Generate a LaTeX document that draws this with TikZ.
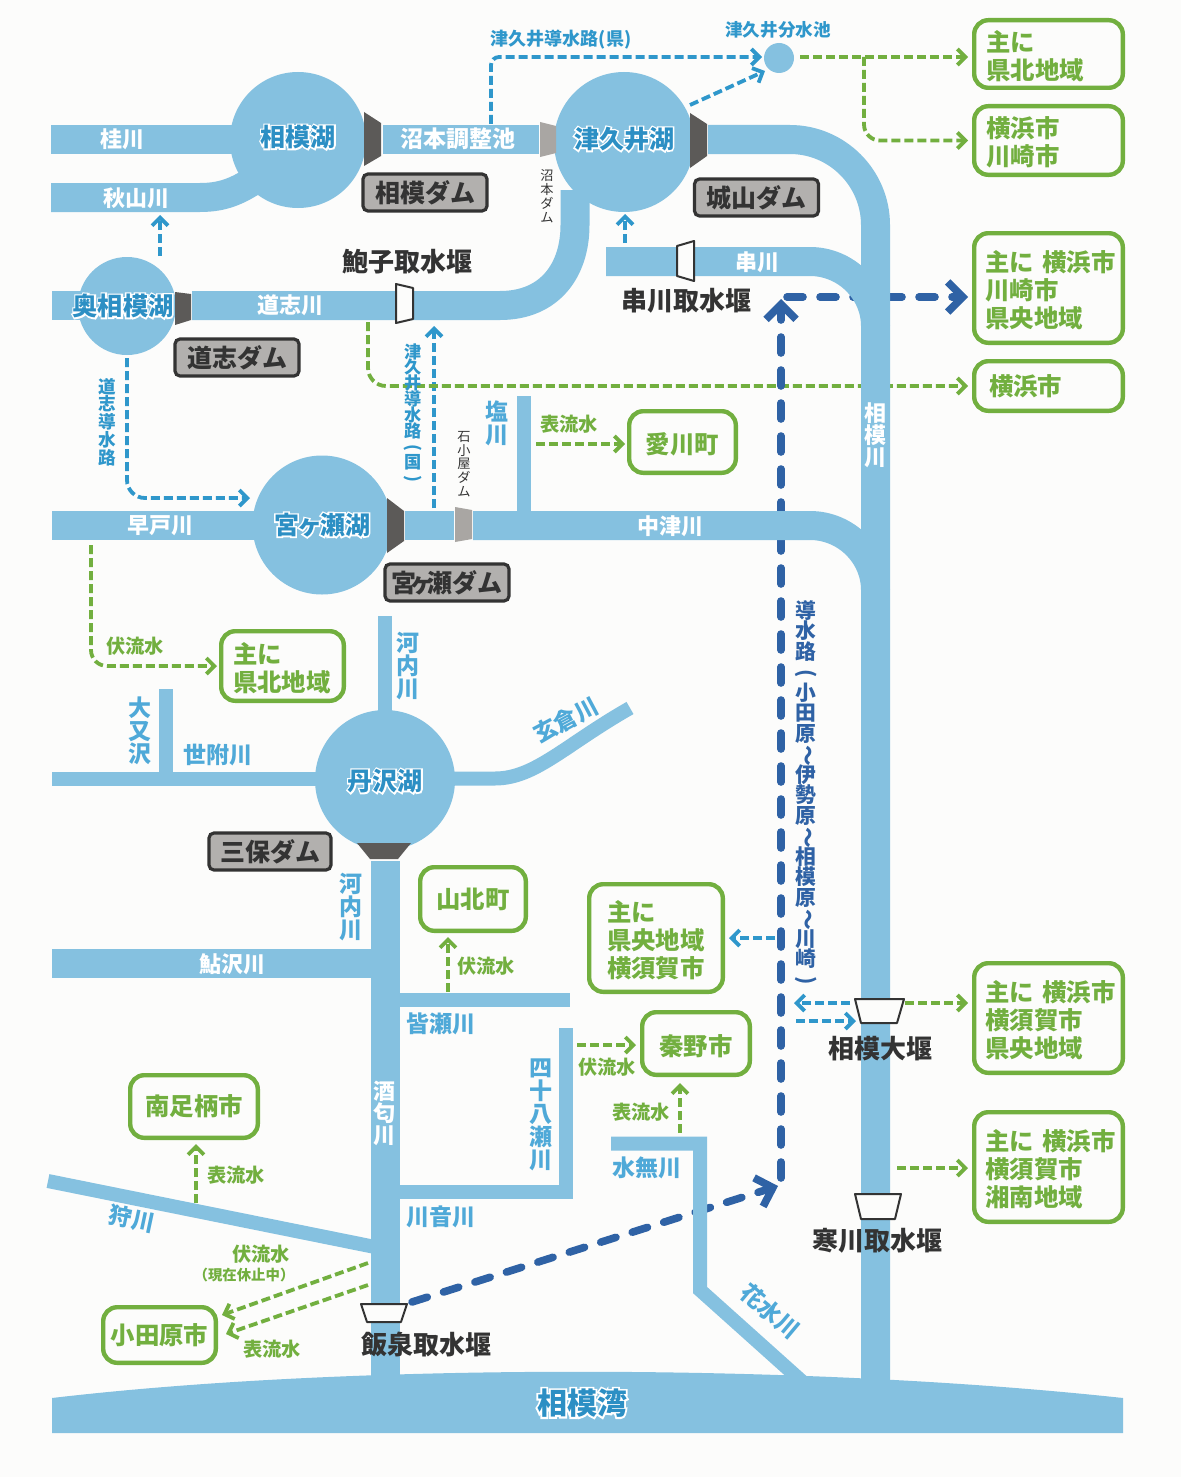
\documentclass[tikz,border=0pt]{standalone}
\usepackage{fontspec}
\setmainfont{Noto Sans CJK JP}
\usetikzlibrary{arrows.meta}
\definecolor{paper}{HTML}{FCFCFB}
\definecolor{riv}{HTML}{85C1E0}
\definecolor{lakeink}{HTML}{2C8FC4}
\definecolor{rivink}{HTML}{4FA9D8}
\definecolor{pipe}{HTML}{2F97CB}
\definecolor{deep}{HTML}{2F62A5}
\definecolor{grn}{HTML}{72AF3F}
\definecolor{dam}{HTML}{5C5A58}
\definecolor{damlt}{HTML}{A9A6A3}
\definecolor{plate}{HTML}{B2B0AE}
\definecolor{ink}{HTML}{333333}
\pgfdeclarelayer{bgl}\pgfdeclarelayer{connl}\pgfdeclarelayer{rivl}
\pgfsetlayers{bgl,connl,rivl,main}
\newcommand\halo[1]{\leavevmode\rlap{\addfontfeature{FakeBold=12}\textcolor{white}{#1}}#1}
\newcommand\vr[1]{\rotatebox[origin=c]{-90}{#1}}
\newcommand\fs[2]{\fontsize{#1}{#2}\selectfont\lineskiplimit=-100pt\bfseries}
\tikzset{
 bigr/.style={riv,line width=14.5pt},
 smlr/.style={riv,line width=7pt},
 lakeshape/.style={circle,fill=riv,inner sep=0pt},
 lakelab/.style={text=lakeink,inner sep=0pt,font=\fs{12.5}{14}},
 gboxs/.style={draw=grn,line width=2.2pt,rounded corners=7pt,fill=paper,text=grn,inner sep=0pt,align=left,font=\fs{12.2}{14}},
 gbox/.style={gboxs,execute at begin node={\rule{0pt}{12.7pt}}},
 plbox/.style={draw=ink,line width=1.6pt,rounded corners=2.5pt,fill=plate,text=ink,inner sep=0pt,font=\fs{12.5}{14}},
 wht/.style={text=white,inner sep=0pt,font=\fs{11}{12}},
 whtv/.style={text=white,inner sep=0pt,align=center,font=\fs{11}{11}},
 blu/.style={text=rivink,inner sep=0pt,font=\fs{11.5}{12}},
 bluv/.style={text=rivink,inner sep=0pt,align=center,font=\fs{11.5}{11.5}},
 glab/.style={text=grn,inner sep=0pt,font=\fs{9.6}{11}},
 weirlab/.style={text=ink,inner sep=0pt,font=\fs{13}{14}},
 gd/.style={grn,line width=1.9pt,dash pattern=on 4.5pt off 2pt},
 bd/.style={pipe,line width=1.9pt,dash pattern=on 4.5pt off 2pt},
 dd/.style={deep,line width=3.8pt,line cap=round,dash pattern=on 8pt off 8.5pt},
 gtip/.style={-{Straight Barb[length=4pt,width=8pt]}},
 dtip/.style={-{Straight Barb[length=7.5pt,width=15pt]}},
 weir/.style={draw=ink,line width=1pt,fill=paper,line join=round},
}
\begin{document}
\begin{tikzpicture}[x=0.5pt,y=-0.5pt]
\useasboundingbox (0,0) rectangle (1181,1477);
\begin{pgfonlayer}{bgl}\fill[paper] (0,0) rectangle (1181,1477);\end{pgfonlayer}
% rivers
\begin{pgfonlayer}{rivl}
\draw[bigr] (51,139.5) -- (240,139.5);
\draw[bigr] (51,197.5) -- (200,197.5) .. controls (225,197.5) and (240,190) .. (262,175);
\draw[bigr] (383,139.5) -- (539,139.5);
\draw[bigr] (708,139.5) -- (790,139.5) .. controls (837,139.5) and (875.5,178) .. (875.5,225) -- (875.5,1395);
\draw[bigr] (192,305.5) -- (500,305.5) .. controls (550,305.5) and (575,270) .. (575,225) -- (575,190);
\draw[bigr] (52,305.5) -- (90,305.5);
\draw[bigr] (606,261.5) -- (810,261.5) .. controls (846,261.5) and (875.5,291) .. (875.5,326);
\draw[bigr] (52,525.5) -- (265,525.5);
\draw[bigr] (405,525.5) -- (454,525.5);
\draw[bigr] (473,525.5) -- (810,525.5) .. controls (846,525.5) and (875.5,555) .. (875.5,590);
\draw[smlr] (523.5,396) -- (523.5,515);
\draw[smlr] (385,616) -- (385,720);
\draw[smlr] (52,778.5) -- (325,778.5);
\draw[smlr] (165.5,689) -- (165.5,775);
\draw[smlr] (445,778.5) -- (495,778.5) .. controls (535,778.5) and (565,745) .. (630,708);
\draw[bigr] (385,861) -- (385,1395);
\draw[bigr] (52,963.5) -- (375,963.5);
\draw[smlr] (395,999.5) -- (570,999.5);
\draw[smlr] (566,1028) -- (566,1198);
\draw[smlr] (395,1191.5) -- (573,1191.5);
\draw[smlr,line join=miter] (611,1143.5) -- (700,1143.5) -- (700,1290) -- (806,1385);
\draw[smlr] (48,1181) -- (375,1247);
\fill[riv] (52,1398) .. controls (350,1363) and (800,1363) .. (1123,1398) -- (1123,1433) -- (52,1433) -- cycle;
\end{pgfonlayer}
% lakes
\node[lakeshape,minimum size=68pt] (sagamiko) at (298,140) {};
\node[lakeshape,minimum size=70pt] (tsukuiko) at (624,142) {};
\node[lakeshape,minimum size=49pt] (okusagami) at (127,306) {};
\node[lakeshape,minimum size=69.5pt] (miyagase) at (322,525) {};
\node[lakeshape,minimum size=70pt] (tanzawa) at (385,780) {};
\node[circle,fill=riv,minimum size=15pt,inner sep=0pt] (bunsui) at (779,58) {};
\node[lakelab] (lab1) at (298,137) {\halo{相模湖}};
\node[lakelab] (lab2) at (624,139) {\halo{津久井湖}};
\node[lakelab,font=\fs{12.6}{14}] (lab3) at (123,306) {\halo{奥相模湖}};
\node[lakelab] (lab4) at (322,525) {\halo{宮\kern-1pt ヶ\kern-1pt 瀬湖}};
\node[lakelab] (lab5) at (385,781) {\halo{丹沢湖}};
% dams
\fill[dam] (364,112) -- (381,123) -- (381,156) -- (364,166) -- cycle;
\fill[damlt] (540,122) -- (556,126) -- (556,153) -- (540,157) -- cycle;
\fill[dam] (690,113) -- (707,124) -- (707,156) -- (690,168) -- cycle;
\fill[dam] (175,292) -- (191,294) -- (191,320) -- (175,325) -- cycle;
\fill[dam] (387,498) -- (404,511) -- (404,541) -- (387,553) -- cycle;
\fill[damlt] (455,507) -- (472,510) -- (472,539) -- (455,542) -- cycle;
\fill[dam] (357,843) -- (411,843) -- (398,859) -- (370,859) -- cycle;
% weirs
\filldraw[weir] (396,284) -- (413,288) -- (413,319) -- (396,323) -- cycle;
\filldraw[weir] (677,246) -- (694,241) -- (694,281) -- (677,276) -- cycle;
\filldraw[weir] (855,999) -- (904,999) -- (897,1023) -- (861,1023) -- cycle;
\filldraw[weir] (855,1194) -- (901,1194) -- (895,1219) -- (861,1219) -- cycle;
\filldraw[weir] (361,1304) -- (407,1304) -- (401,1322) -- (367,1322) -- cycle;
% boxes
\node[gbox,minimum width=74.3pt,minimum height=33.8pt,text width=62pt] (bnorth) at (1048.5,54) {主に\\県北地域};
\node[gbox,minimum width=74.3pt,minimum height=34.3pt,text width=62pt] (byoka) at (1048.5,140.5) {横浜市\\川崎市};
\node[gbox,minimum width=74.3pt,minimum height=54.8pt,text width=63pt] (bykc) at (1048.5,288) {\mbox{主に 横浜市}\\川崎市\\県央地域};
\node[gboxs,minimum width=74.3pt,minimum height=24.8pt,text width=59.5pt] (byoko) at (1048.5,386) {横浜市};
\node[gbox,minimum width=53.3pt,minimum height=30.8pt,align=center] (baikawa) at (682.5,442) {愛川町};
\node[gbox,minimum width=61.3pt,minimum height=34.8pt,text width=49.5pt] (bnorth2) at (282.5,666) {主に\\県北地域};
\node[gboxs,minimum width=52.8pt,minimum height=31.8pt,align=center] (byama) at (473,899) {山北町};
\node[gbox,minimum width=66.8pt,minimum height=53.8pt,text width=49pt] (bkenou) at (656,938) {主に\\県央地域\\横須賀市};
\node[gbox,minimum width=53.8pt,minimum height=31.3pt,align=center] (bhadano) at (696,1043.5) {秦野市};
\node[gboxs,minimum width=63.8pt,minimum height=31.3pt,align=center] (bminami) at (194,1106.5) {南足柄市};
\node[gboxs,minimum width=56.3pt,minimum height=27.8pt,align=center] (bodawara) at (159.5,1335) {小田原市};
\node[gbox,minimum width=74.3pt,minimum height=54.8pt,text width=63pt] (bykk) at (1048.5,1018) {\mbox{主に 横浜市}\\横須賀市\\県央地域};
\node[gbox,minimum width=74.3pt,minimum height=54.8pt,text width=63pt] (byks) at (1048.5,1167) {\mbox{主に 横浜市}\\横須賀市\\湘南地域};
% plates
\node[plbox,minimum width=62pt,minimum height=18.5pt] (pS) at (425,192.5) {相模ダム};
\node[plbox,minimum width=62pt,minimum height=18.5pt] (pJ) at (756.5,197.5) {城山ダム};
\node[plbox,minimum width=62pt,minimum height=18.5pt] (pD) at (237,357.5) {道志ダム};
\node[plbox,minimum width=62pt,minimum height=18.5pt] (pM) at (447,582.5) {宮\kern-3.5pt ヶ\kern-3.5pt 瀬ダム};
\node[plbox,minimum width=61pt,minimum height=18.5pt] (pH) at (270,851.5) {三保ダム};
% connector ends
\coordinate (a1) at (491,124); \coordinate (a2) at (762,57);
\coordinate (a3) at (690,105); \coordinate (a4) at (765,71);
\coordinate (a5) at (160,256); \coordinate (a6) at (160,215);
\coordinate (a7) at (625,243); \coordinate (a8) at (625,214);
\coordinate (a9) at (127,358); \coordinate (a10) at (250,498);
\coordinate (a11) at (434,508); \coordinate (a12) at (434,326);
\coordinate (a13) at (775,938); \coordinate (a14) at (850,1003); \coordinate (a15) at (794,1003);
\coordinate (a16) at (796,1021); \coordinate (a17) at (856,1021);
\coordinate (g1) at (800,57); \coordinate (g2) at (864,57);
\coordinate (g3) at (368,322);
\coordinate (g4) at (536,444); \coordinate (g5) at (91,545); \coordinate (g5b) at (91,666);
\coordinate (g6) at (448,992); \coordinate (g7) at (577,1045);
\coordinate (g8) at (680,1133); \coordinate (g9) at (905,1003);
\coordinate (g10) at (897,1168); \coordinate (g11) at (196,1203);
\coordinate (g12) at (368,1263); \coordinate (g13) at (222,1315);
\coordinate (g14) at (368,1285); \coordinate (g15) at (226,1334);
\coordinate (d1) at (412,1302); \coordinate (d2) at (778,1186);
\coordinate (d3) at (781,1178); \coordinate (d4) at (781,299);
\coordinate (d5) at (787,297);
% connectors
\begin{pgfonlayer}{connl}
\draw[bd,gtip,rounded corners=4pt] (a1) |- (a2);
\draw[bd,gtip] (a3) -- (a4);
\draw[bd,gtip] (a5) -- (a6);
\draw[bd,gtip] (a7) -- (a8);
\draw[bd,gtip,rounded corners=9pt] (a9) |- (a10);
\draw[bd,gtip] (a11) -- (a12);
\draw[bd,gtip,shorten >=2pt] (a13) -- (a13 -| bkenou.east) ;
\draw[bd,gtip] (a14) -- (a15);
\draw[bd,gtip] (a16) -- (a17);
\draw[gd,gtip,shorten >=2pt] (g1) -- (g1 -| bnorth.west);
\draw[gd,gtip,shorten >=2pt,rounded corners=8pt] (g2) |- (byoka.west);
\draw[gd,gtip,shorten >=2pt,rounded corners=9pt] (g3) |- (byoko.west);
\draw[gd,gtip,shorten >=1pt] (g4) -- (baikawa.west |- g4);
\draw[gd,gtip,shorten >=1pt,rounded corners=8pt] (g5) |- (bnorth2.west |- g5b);
\draw[gd,gtip,shorten >=2pt] (g6) -- (g6 |- byama.south);
\draw[gd,gtip,shorten >=2pt] (g7) -- (g7 -| bhadano.west);
\draw[gd,gtip,shorten >=3pt] (g8) -- (g8 |- bhadano.south);
\draw[gd,gtip,shorten >=2pt] (g9) -- (g9 -| bykk.west);
\draw[gd,gtip,shorten >=2pt] (g10) -- (g10 -| byks.west);
\draw[gd,gtip,shorten >=2pt] (g11) -- (g11 |- bminami.south);
\draw[gd,gtip] (g12) -- (g13);
\draw[gd,gtip] (g14) -- (g15);
\draw[dd,dtip] (d1) -- (d2);
\draw[dd,dtip] (d3) -- (d4);
\draw[dd,dtip,shorten >=2pt] (d5) -- (d5 -| bykc.west);
\end{pgfonlayer}
% river labels
\node[wht] (t1) at (122,139) {桂川};
\node[wht] (t2) at (136,198) {秋山川};
\node[wht,font=\fs{11.5}{12}] (t3) at (458,139) {沼本調整池};
\node[wht] (t4) at (290,305) {道志川};
\node[wht] (t5) at (757,262) {串川};
\node[wht] (t6) at (160,526) {早戸川};
\node[wht] (t7) at (670,526) {中津川};
\node[wht] (t8) at (232,964) {鮎沢川};
\node[whtv] (t9) at (875,435) {相\\模\\川};
\node[whtv] (t10) at (384,1113) {酒\\匂\\川};
\node[bluv] (t11) at (497,423) {塩\\川};
\node[bluv] (t12) at (408,666) {河\\内\\川};
\node[bluv] (t13) at (140,731) {大\\又\\沢};
\node[blu] (t14) at (218,755) {世附川};
\node[blu,rotate=28] (t15) at (566,720) {玄倉川};
\node[bluv] (t16) at (351,907) {河\\内\\川};
\node[blu] (t17) at (441,1024) {皆瀬川};
\node[bluv] (t18) at (541,1115) {四\\十\\八\\瀬\\川};
\node[blu] (t19) at (441,1217) {川音川};
\node[blu] (t20) at (647,1168) {水無川};
\node[blu,rotate=-40] (t21) at (770,1311) {花水川};
\node[blu,rotate=-12] (t22) at (132,1219) {狩川};
\node[lakelab,font=\fs{15}{16}] (t23) at (582,1403) {\halo{相模湾}};
% pipe labels
\node[text=pipe,inner sep=0pt,font=\fs{9}{10}] (p1) at (561,39.5) {津久井導水路(県)};
\node[text=pipe,inner sep=0pt,font=\fs{8.8}{10}] (p2) at (778,30) {津久井分水池};
\node[text=pipe,inner sep=0pt,align=center,font=\fs{8.8}{8.9}] (p3) at (107,422) {道\\志\\導\\水\\路};
\node[text=pipe,inner sep=0pt,align=center,font=\fs{8.6}{7.9}] (p4) at (413,414) {津\\久\\井\\導\\水\\路\\\vr{(}\\国\\\vr{)}};
\node[text=deep,inner sep=0pt,align=center,font=\fs{10.4}{10.25}] (p5) at (806,794) {導\\水\\路\\\vr{(}\\小\\田\\原\\\vr{～}\\伊\\勢\\原\\\vr{～}\\相\\模\\原\\\vr{～}\\川\\崎\\\vr{)}};
% small dam labels
\node[text=ink,inner sep=0pt,align=center,font={\fontsize{6.6}{7}\selectfont\lineskiplimit=-100pt}] (s1) at (547,196) {沼\\本\\ダ\\ム};
\node[text=ink,inner sep=0pt,align=center,font={\fontsize{6.6}{6.9}\selectfont\lineskiplimit=-100pt}] (s2) at (464,464) {石\\小\\屋\\ダ\\ム};
% weir labels
\node[weirlab] (w1) at (407,262) {鮑子取水堰};
\node[weirlab] (w2) at (686,301) {串川取水堰};
\node[weirlab] (w3) at (880,1049) {相模大堰};
\node[weirlab] (w4) at (877,1241) {寒川取水堰};
\node[weirlab] (w5) at (426,1344) {飯泉取水堰};
% green labels
\node[glab] (l1) at (569,424) {表流水};
\node[glab] (l2) at (135,646) {伏流水};
\node[glab] (l3) at (486,966) {伏流水};
\node[glab] (l4) at (607,1067) {伏流水};
\node[glab] (l5) at (641,1112) {表流水};
\node[glab] (l6) at (236,1175) {表流水};
\node[glab] (l7) at (261,1254) {伏流水};
\node[glab,font=\fs{7.2}{8}] (l8) at (244,1275) {（現在休止中）};
\node[glab] (l9) at (272,1349) {表流水};
\end{tikzpicture}
\end{document}
